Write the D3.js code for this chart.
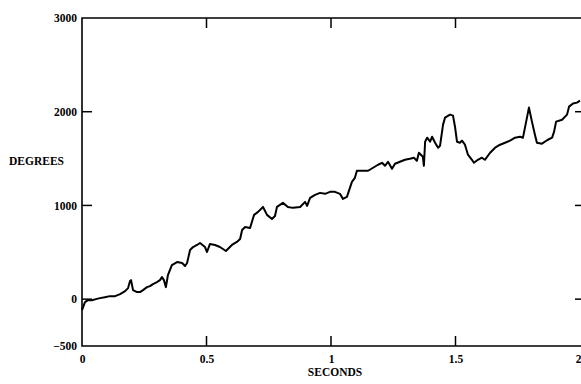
<!DOCTYPE html>
<html>
<head>
<meta charset="utf-8">
<script src="https://d3js.org/d3.v7.min.js"></script>
<style>
  body { margin: 0; background: #fff; }
  svg { display: block; }
  svg text { font-family: "Liberation Serif", "DejaVu Serif", serif; font-weight: bold; font-size: 11.5px; fill: #000; }
</style>
</head>
<body>
<svg id="chart" width="581" height="384"></svg>
<script>
// values
const seconds = [
  0, 0.012, 0.024, 0.040, 0.056, 0.072, 0.092, 0.112, 0.133, 0.153, 0.173, 0.185, 0.193, 0.197,
  0.205, 0.221, 0.233, 0.245, 0.261, 0.273, 0.285, 0.301, 0.313, 0.321, 0.329, 0.337, 0.345, 0.361,
  0.382, 0.402, 0.414, 0.422, 0.434, 0.446, 0.462, 0.474, 0.494, 0.502, 0.514, 0.534, 0.554, 0.578,
  0.602, 0.622, 0.635, 0.643, 0.655, 0.675, 0.691, 0.707, 0.727, 0.743, 0.763, 0.775, 0.783, 0.807,
  0.827, 0.847, 0.876, 0.896, 0.904, 0.916, 0.936, 0.956, 0.976, 0.996, 1.016, 1.036, 1.048, 1.064,
  1.084, 1.096, 1.104, 1.124, 1.149, 1.169, 1.189, 1.205, 1.217, 1.229, 1.245, 1.257, 1.277, 1.297,
  1.317, 1.333, 1.345, 1.353, 1.369, 1.373, 1.378, 1.386, 1.398, 1.406, 1.418, 1.430, 1.438, 1.450,
  1.458, 1.478, 1.490, 1.498, 1.506, 1.518, 1.526, 1.538, 1.550, 1.566, 1.574, 1.590, 1.606, 1.618,
  1.639, 1.659, 1.679, 1.699, 1.719, 1.739, 1.759, 1.771, 1.783, 1.795, 1.807, 1.819, 1.827, 1.847,
  1.871, 1.888, 1.896, 1.904, 1.928, 1.948, 1.956, 1.972, 1.988, 2.000
];
const degrees = [
  -118, -32, -11, -11, 0, 11, 21, 32, 32, 54, 86, 118, 193, 203,
  96, 75, 75, 96, 128, 139, 161, 182, 203, 235, 203, 128, 257, 364,
  396, 385, 353, 385, 524, 556, 578, 599, 556, 503, 589, 578, 556, 514,
  578, 610, 642, 738, 770, 760, 899, 931, 984, 899, 856, 888, 984, 1027,
  984, 974, 984, 1038, 995, 1081, 1113, 1134, 1124, 1145, 1145, 1124, 1070, 1091,
  1252, 1295, 1370, 1370, 1370, 1402, 1434, 1455, 1423, 1466, 1391, 1445, 1466, 1487,
  1498, 1509, 1477, 1562, 1519, 1423, 1680, 1723, 1680, 1733, 1669, 1616, 1637, 1862,
  1937, 1969, 1958, 1840, 1680, 1669, 1691, 1648, 1541, 1487, 1455, 1487, 1509, 1487,
  1562, 1616, 1648, 1669, 1691, 1723, 1733, 1723, 1883, 2044, 1894, 1755, 1669, 1659,
  1701, 1723, 1787, 1894, 1915, 1969, 2054, 2087, 2097, 2119
];

const xTicks = [0, 0.5, 1, 1.5, 2];
const xTickLabels = ["0", "0.5", "1", "1.5", "2"];
const yTicks = [-500, 0, 1000, 2000, 3000];
const yInnerTicks = [0, 1000, 2000];
const xInnerTicks = [0.5, 1, 1.5];

const svg = d3.select("#chart");
const plotLeft = 82, plotRight = 580, plotTop = 18, plotBottom = 346;

const x = d3.scaleLinear().domain([0, 2]).range([plotLeft, plotRight]);
const y = d3.scaleLinear().domain([-500, 3000]).range([plotBottom, plotTop]);

// frame (no right edge visible in the reference)
svg.append("path")
  .attr("d", `M${plotRight + 1},${plotTop}H${plotLeft}V${plotBottom}H${plotRight + 1}`)
  .attr("fill", "none")
  .attr("stroke", "#000")
  .attr("stroke-width", 1.6);

// tick labels via axes, tick marks drawn inward below
const yAxis = svg.append("g")
  .attr("transform", `translate(${plotLeft},0)`)
  .call(d3.axisLeft(y).tickValues(yTicks).tickSize(0).tickPadding(5).tickFormat(d3.format("d")));
yAxis.select(".domain").remove();

const xAxis = svg.append("g")
  .attr("transform", `translate(0,${plotBottom})`)
  .call(d3.axisBottom(x).tickValues(xTicks).tickSize(0).tickPadding(9).tickFormat((d, i) => xTickLabels[i]));
xAxis.select(".domain").remove();

svg.selectAll(".tick text").attr("fill", "#000");
// last label sits against the page edge, keep it inside
xAxis.selectAll(".tick text").filter(d => d === 2).attr("text-anchor", "end").attr("dx", 1);

// inward tick marks
const ticks = svg.append("g").attr("stroke", "#000").attr("stroke-width", 1.5);
ticks.selectAll(".yl").data(yInnerTicks).join("line")
  .attr("x1", plotLeft).attr("x2", plotLeft + 10).attr("y1", d => y(d)).attr("y2", d => y(d));
ticks.selectAll(".yr").data(yInnerTicks).join("line")
  .attr("x1", plotRight - 5).attr("x2", plotRight + 1).attr("y1", d => y(d)).attr("y2", d => y(d));
ticks.selectAll(".xb").data(xInnerTicks).join("line")
  .attr("x1", d => x(d)).attr("x2", d => x(d)).attr("y1", plotBottom).attr("y2", plotBottom - 10);
ticks.selectAll(".xt").data(xInnerTicks).join("line")
  .attr("x1", d => x(d)).attr("x2", d => x(d)).attr("y1", plotTop).attr("y2", plotTop + 10);

// the trace
const line = d3.line()
  .x((d, i) => x(seconds[i]))
  .y(d => y(d));

svg.append("path")
  .datum(degrees)
  .attr("d", line)
  .attr("fill", "none")
  .attr("stroke", "#000")
  .attr("stroke-width", 2)
  .attr("stroke-linejoin", "round");

// axis titles
svg.append("text").attr("x", 9).attr("y", 165).text("DEGREES");
svg.append("text").attr("x", 335).attr("y", 376).attr("text-anchor", "middle").text("SECONDS");
</script>
</body>
</html>
